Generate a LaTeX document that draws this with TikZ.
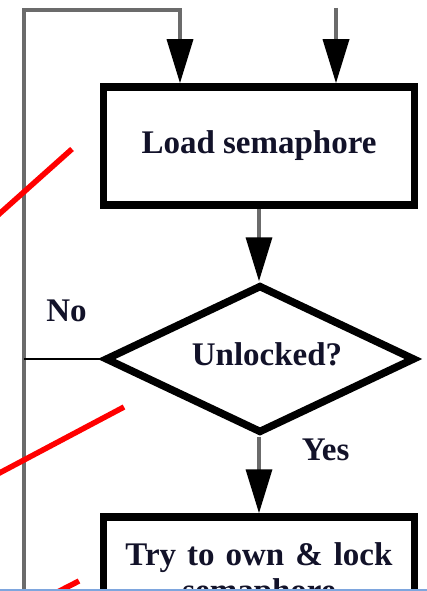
\documentclass[tikz,border=0pt]{standalone}
\usepackage{fontspec}
\setmainfont{Liberation Serif}
\usepackage{tikz}
\usetikzlibrary{arrows.meta}
\usetikzlibrary{shapes}
\definecolor{ink}{rgb}{0.07,0.07,0.16}
\definecolor{wiregray}{gray}{0.42}
\definecolor{markred}{rgb}{1,0,0}
\definecolor{edgeblue}{HTML}{7EA6DE}

\begin{document}
\begin{tikzpicture}[x=1pt, y=-1pt, ->, >={Triangle[width=26pt, length=44pt, black]},
    every node/.style={font=\bfseries\fontsize{33}{36}\selectfont, text=ink, inner sep=0pt},
    block/.style={draw=black, line width=7.5pt, rectangle, minimum width=311pt, minimum height=118pt, align=center},
    decision/.style={draw=black, line width=7.5pt, diamond, minimum width=310pt, minimum height=148pt},
    wire/.style={draw=wiregray, line width=3.5pt}]

    \clip (0, 0) rectangle (427, 591);

    \node[block] (load) at (259, 146) {Load semaphore};
    \node[decision, label={[xshift=7pt, yshift=5pt]center:Unlocked?}] (unlocked) at (260, 359) {};
    \node[block, text width=300pt] (own) at (259, 576) {Try to own \& lock\\semaphore};

    \coordinate (back) at (24, 600);
    \coordinate (corner) at (24, 10);
    \coordinate (loopin) at (180, 10);
    \coordinate (entry) at (336, 8);

    \draw[wire] (back) -- (corner) -- (loopin) -- (loopin |- load.north);
    \draw[wire] (entry) -- (entry |- load.north);
    \draw[wire] (load.south) -- (load.south |- unlocked.north);
    \draw[wire] (unlocked.south -| own.north) -- (own.north) node[pos=0.17, right=41pt] {Yes};
    \draw[-, line width=2.5pt] (unlocked.west) -- (unlocked.west -| back) node[pos=0.45, above=36pt] {No};

% % marks
    \draw[-, markred, line width=5.5pt] (72, 149) -- (-12, 224);
    \draw[-, markred, line width=5.5pt] (124, 407) -- (-10, 478);
    \draw[-, markred, line width=5.5pt] (79, 581) -- (40, 601);
    \draw[-, edgeblue, line width=2pt] (0, 590) -- (427, 590);

\end{tikzpicture}
\end{document}
